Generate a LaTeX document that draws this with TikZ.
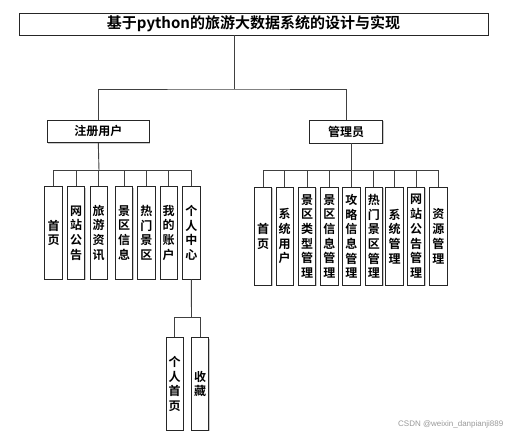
\documentclass[tikz,border=0pt]{standalone}
\usepackage{fontspec}
\setmainfont{Liberation Sans}
\newfontfamily\cjk{Noto Sans CJK SC}[BoldFont={Noto Sans CJK SC Bold}]
\usetikzlibrary{shadows}
\begin{document}
\begin{tikzpicture}[x=1pt,y=-1pt,
  box/.style={draw=black!85,line width=0.9pt,fill=white,inner sep=0pt,
    font=\cjk\bfseries\fontsize{12}{14.7}\selectfont,align=center,
    drop shadow={shadow xshift=1pt,shadow yshift=-1pt,fill=black!35,opacity=0.6}},
  vbox/.style={box,minimum width=17.4pt},
  lbox/.style={vbox,minimum height=92.3pt},
  rbox/.style={vbox,minimum height=98pt},
  wire/.style={draw=black!75,line width=0.9pt}]
\useasboundingbox (0,0) rectangle (524,436);
% title
\node[box,minimum width=469pt,minimum height=22pt,font=\cjk\bfseries\fontsize{15}{18}\selectfont] (title) at (253.5,24) {基于python的旅游大数据系统的设计与实现};
\coordinate (hub) at (234.7,89);
% second level
\node[box,minimum width=102pt,minimum height=22.7pt] (u) at (98.3,131.3) {注册用户};
\node[box,minimum width=73.4pt,minimum height=23pt] (m) at (346,131.5) {管理员};
\draw[wire] (hub |- title.south) -- (hub);
\draw[wire] (u.north) |- (hub) -| (m.north);
% user children
\coordinate (ubus) at (99,170.7);
\node[lbox] (u1) at (53.6,232.85) {首\\页};
\node[lbox] (u2) at (76,232.85) {网\\站\\公\\告};
\node[lbox] (u3) at (98.7,232.85) {旅\\游\\资\\讯};
\node[lbox] (u4) at (124,232.85) {景\\区\\信\\息};
\node[lbox] (u5) at (146.3,232.85) {热\\门\\景\\区};
\node[lbox] (u6) at (168.7,232.85) {我\\的\\账\\户};
\node[lbox] (u7) at (191.3,232.85) {个\\人\\中\\心};
\draw[wire] (u.south) -- (ubus);
\foreach \n in {u1,u2,u3,u4,u5,u6,u7} \draw[wire] (\n.north) |- (ubus);
% admin children
\coordinate (mbus) at (351.3,170);
\node[rbox] (m1) at (263,236.3) {首\\页};
\node[rbox] (m2) at (284.7,236.3) {系\\统\\用\\户};
\node[rbox] (m3) at (307,236.3) {景\\区\\类\\型\\管\\理};
\node[rbox] (m4) at (329.3,236.3) {景\\区\\信\\息\\管\\理};
\node[rbox] (m5) at (351.3,236.3) {攻\\略\\信\\息\\管\\理};
\node[rbox] (m6) at (373.8,236.3) {热\\门\\景\\区\\管\\理};
\node[rbox] (m7) at (394.5,236.3) {系\\统\\管\\理};
\node[rbox] (m8) at (416,236.3) {网\\站\\公\\告\\管\\理};
\node[rbox] (m9) at (438.3,236.3) {资\\源\\管\\理};
\draw[wire] (mbus |- m.south) -- (mbus);
\foreach \n in {m1,m2,m3,m4,m5,m6,m7,m8,m9} \draw[wire] (\n.north) |- (mbus);
% personal center children
\coordinate (pbus) at (191.5,317.3);
\node[lbox] (p1) at (174.7,383.85) {个\\人\\首\\页};
\node[lbox] (p2) at (200,383.85) {收\\藏};
\draw[wire] (u7.south) -- (pbus);
\draw[wire] (p1.north) |- (pbus) -| (p2.north);
% watermark
\node[text=black!40,font=\fontsize{8}{9}\selectfont,inner sep=0pt] (wm) at (450.7,424) {CSDN @weixin\_danpianji889};
\end{tikzpicture}
\end{document}
